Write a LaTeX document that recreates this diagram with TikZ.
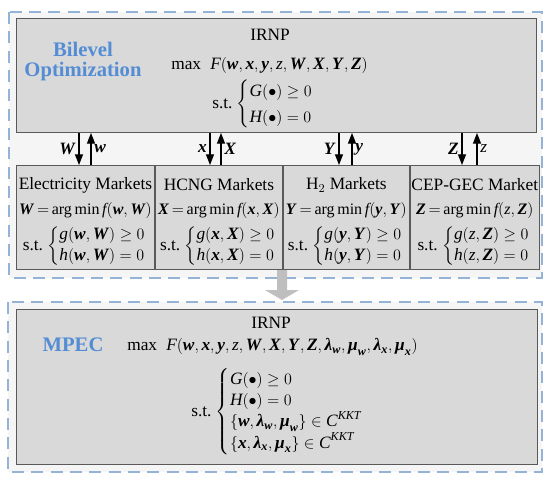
\documentclass[tikz,border=0pt]{standalone}
\usepackage{amsmath}
\usepackage{fontspec}
\setmainfont{Liberation Serif}
\usetikzlibrary{arrows.meta, calc, positioning}

\definecolor{frameblue}{RGB}{149,179,215}
\definecolor{titleblue}{RGB}{84,141,212}
\definecolor{boxgray}{RGB}{217,217,217}
\definecolor{bandgray}{RGB}{245,245,245}
\definecolor{arrowgray}{RGB}{191,191,191}

\newcommand{\vb}[1]{\textbf{\textit{#1}}}
\newcommand{\vi}[1]{\textit{#1}}

\tikzset{
  frame/.style={draw=frameblue, line width=1.5pt, dash pattern=on 9pt off 5.5pt, fill=bandgray},
  graybox/.style={draw=black!65, line width=0.7pt, fill=boxgray, inner sep=0pt, anchor=north west},
  title/.style={text=titleblue, font=\fontsize{15.5}{15}\selectfont\bfseries, align=center, inner sep=0pt},
  txt/.style={font=\fontsize{13}{15}\selectfont, inner sep=0pt},
  small/.style={font=\fontsize{12}{14}\selectfont, inner sep=0pt},
  flow/.style={-{Triangle[width=6pt,length=8pt]}, line width=0.9pt},
}

\begin{document}
\begin{tikzpicture}[x=0.75pt, y=-0.75pt, node distance=0pt]
  \def\px{0.75pt}
  \useasboundingbox (0,0) rectangle (550,482);

  % cornici tratteggiate
  \draw[frame] (9,12) rectangle (542,278);
  \draw[frame] (8,302) rectangle (542,472);

  % livello superiore
  \node[graybox, minimum width={520*\px}, minimum height={114*\px}] (upper) at (16,18) {};
  \node[title] (bilevel) at (83,62) {Bilevel\\Optimization};
  \node[txt] (irnp) at (270,35) {IRNP};
  \node[txt, anchor=west] (objup) at (171,65)
    {max\; $\vi{F}(\vb{w},\vb{x},\vb{y},\vi{z},\vb{W},\vb{X},\vb{Y},\vb{Z})$};
  \node[txt, anchor=west] (stup) at (212,104)
    {s.t.\ $\def\arraystretch{1.3}\left\{\begin{array}{@{}l@{}}
      \vi{G}(\bullet)\ge 0\\ \vi{H}(\bullet)=0\end{array}\right.$};

  % mercati (livello inferiore)
  \node[graybox, minimum width={138*\px}, minimum height={104*\px}] (elec) at (16,165) {};
  \node[graybox, minimum width={127*\px}, minimum height={104*\px}, right=of elec] (hcng) {};
  \node[graybox, minimum width={126*\px}, minimum height={104*\px}, right=of hcng] (htwo) {};
  \node[graybox, minimum width={129*\px}, minimum height={104*\px}, right=of htwo] (cep) {};

  \foreach \mk/\name/\V/\v in {elec/{Electricity Markets}/{\vb{W}}/{\vb{w}},
      hcng/{HCNG Markets}/{\vb{X}}/{\vb{x}},
      htwo/{H$_2$ Markets}/{\vb{Y}}/{\vb{y}},
      cep/{CEP-GEC Market}/{\vb{Z}}/{\vi{z}}} {
    \node[txt] (\mk-name) at ($(\mk.north)+(0,20)$) {\name};
    \node[small] (\mk-obj) at ($(\mk.north)+(0,45)$)
      {$\thickmuskip=3mu \V=\text{arg\,min}\,\vi{f}(\v,\V)$};
    \node[txt] (\mk-st) at ($(\mk.north)+(-1,81)$)
      {s.t.\ $\def\arraystretch{1.05}\left\{\begin{array}{@{}l@{}}
        \vi{g}(\v,\V)\ge 0\\ \vi{h}(\v,\V)=0\end{array}\right.$};
  }

  % frecce tra i livelli
  \foreach \mk/\xd/\xu/\ld/\lu in {elec/79/91/{\vb{W}}/{\vb{w}},
      hcng/210/221/{\vb{x}}/{\vb{X}},
      htwo/339/352/{\vb{Y}}/{\vb{y}},
      cep/462/477/{\vb{Z}}/{\vi{z}}} {
    \coordinate (d) at (\xd,0);
    \coordinate (u) at (\xu,0);
    \draw[flow] (upper.south -| d) -- (\mk.north -| d)
      node[txt, midway, left=2pt] {\ld};
    \draw[flow] (\mk.north -| u) -- (upper.south -| u)
      node[txt, midway, right=2pt] {\lu};
  }

  % freccia grigia
  \fill[arrowgray] (277,270) -- (287,270) -- (287,290) -- (299,290)
    -- (282,300) -- (265,290) -- (277,290) -- cycle;

  % MPEC
  \node[graybox, minimum width={521*\px}, minimum height={155*\px}] (mpec) at (16,309) {};
  \node[title] (mpectitle) at (73,345) {MPEC};
  \node[txt] (irnpdown) at (271,323) {IRNP};
  \node[txt, anchor=west] (objdown) at (127,347)
    {max\; $\vi{F}(\vb{w},\vb{x},\vb{y},\vi{z},\vb{W},\vb{X},\vb{Y},\vb{Z},\vb{λ}_{\vb{w}},\vb{μ}_{\vb{w}},\vb{λ}_{\vb{x}},\vb{μ}_{\vb{x}})$};
  \node[txt, anchor=west] (stdown) at (191,412)
    {s.t.\ $\def\arraystretch{1.05}\left\{\begin{array}{@{}l@{}}
      \vi{G}(\bullet)\ge 0\\ \vi{H}(\bullet)=0\\
      \{\vb{w},\vb{λ}_{\vb{w}},\vb{μ}_{\vb{w}}\}\in \vi{C}^{\vi{KKT}}\\
      \{\vb{x},\vb{λ}_{\vb{x}},\vb{μ}_{\vb{x}}\}\in \vi{C}^{\vi{KKT}}\end{array}\right.$};
\end{tikzpicture}
\end{document}
